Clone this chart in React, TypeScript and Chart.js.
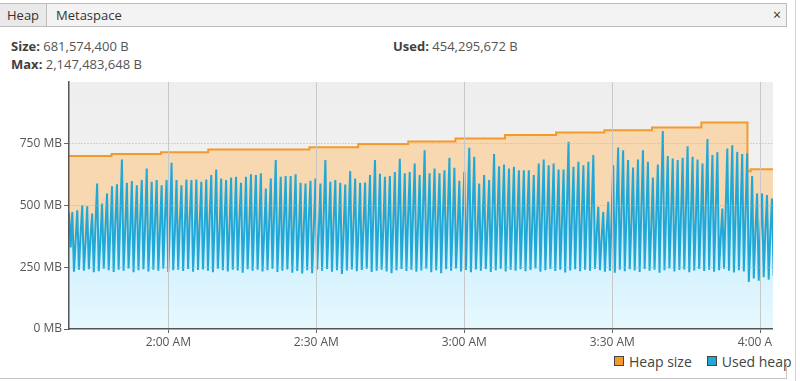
import React, { useEffect, useRef } from "react";
import { Chart, registerables } from "chart.js";

Chart.register(...registerables);

// ---- axis / time (minutes after midnight) ----
const xStartMin = 99.87; // ~1:39.9 AM
const xEndMin = 242.58; // ~4:02.6 AM
const xTickValues = [120, 150, 180, 210, 240];
const yTickValues = [0, 250, 500, 750, 1000];
const sampleStepMin = 0.3353;

// ---- Heap size (MB), step changes ----
const heapTimes = [99.87, 108.5, 118.5, 128.1, 148.6, 158.5, 168.65, 178.2, 188.25, 198.6, 208.4, 218.05, 228.05, 237.4, 238.06, 242.58];
const heapSizeMB = [700, 708, 716, 727, 736, 749, 759, 771, 785, 796, 805, 816, 836, 639, 647, 647];

// ---- Used heap (MB): low / mid / high of each GC cycle ----
const usedLowsMB = [
  470, 232, 240, 236, 242, 230, 234, 244, 238, 231, 240, 236, 245, 230, 238, 242, 233, 240, 236, 244,
  231, 238, 240, 235, 243, 232, 239, 241, 236, 230, 244, 238, 233, 240, 237, 228, 242,
  236, 240, 233, 238, 244, 231, 236, 241, 228, 235, 225, 238, 226, 240, 236, 243, 232, 238, 223, 237,
  241, 234, 239, 244, 231, 236, 240, 233, 226, 238, 243, 235, 240, 232, 237, 244, 230,
  238, 226, 242, 236, 245, 233, 239, 230, 241, 236, 243, 231, 238, 244, 233, 240, 236, 242, 234, 239,
  245, 232, 238, 243, 235, 240, 229, 237, 242, 234, 240, 236, 243, 238, 232,
  236, 228, 240, 234, 242, 237, 231, 243, 236, 240, 228, 238, 245, 233, 239, 241, 230, 237, 243, 235,
  240, 232, 238, 244, 236, 229, 238, 233, 190, 205, 195, 210, 200, 215,
];
const usedMidsMB = [
  330, 360, 380, 350, 372, 420, 365, 405, 398, 430, 455, 410, 392, 425, 440, 415, 388, 432, 402, 445,
  418, 395, 436, 408, 452, 385, 428, 412, 447, 420, 398, 438, 406, 425, 442, 400, 418,
  435, 410, 390, 428, 458, 402, 440, 415, 430, 396, 422, 448, 408, 392, 462, 418, 436, 404, 390, 445,
  425, 398, 412, 440, 468, 420, 405, 432, 418, 460, 424, 450, 470, 415, 478, 430, 445,
  438, 452, 465, 430, 410, 446, 488, 470, 402, 428, 415, 472, 440, 456, 432, 448, 425, 436, 442, 418,
  455, 468, 440, 452, 430, 426, 492, 438, 462, 445, 458, 480, 385, 368, 390,
  448, 485, 472, 455, 430, 460, 478, 450, 412, 442, 520, 465, 458, 450, 462, 488, 455, 446, 438, 505,
  470, 476, 372, 482, 495, 470, 466, 468, 360, 395, 402, 398, 385,
];
const usedHighsMB = [
  474, 481, 501, 497, 467, 589, 508, 549, 578, 586, 686, 592, 599, 582, 603, 650, 596, 603, 582, 603,
  673, 603, 582, 605, 603, 605, 596, 605, 623, 646, 609, 603, 613, 616, 592, 616, 626,
  623, 630, 569, 609, 684, 616, 619, 619, 626, 592, 589, 600, 609, 589, 684, 596, 603, 592, 585, 640,
  609, 592, 593, 623, 684, 628, 616, 619, 636, 689, 630, 636, 670, 623, 724, 630, 650,
  630, 643, 693, 653, 600, 636, 734, 697, 589, 623, 603, 708, 659, 666, 650, 657, 643, 643, 643, 623,
  670, 686, 663, 670, 646, 646, 758, 657, 677, 663, 677, 704, 495, 474, 515,
  663, 735, 724, 684, 654, 686, 724, 677, 613, 666, 802, 700, 690, 684, 693, 740, 697, 686, 670, 769,
  704, 716, 488, 731, 744, 717, 708, 711, 619, 549, 549, 542, 528,
];

function fmtTime(v: number): string {
  const h = Math.floor(v / 60);
  const m = Math.round(v - h * 60);
  const hh = h % 12 === 0 ? 12 : h % 12;
  return `${hh}:${m < 10 ? "0" + m : m} ${h < 12 ? "AM" : "PM"}`;
}

const plotBackground = {
  id: "plotBackground",
  beforeDraw(chart: any) {
    const { ctx, chartArea: a } = chart;
    if (!a) return;
    const g = ctx.createLinearGradient(0, a.top, 0, a.bottom);
    g.addColorStop(0, "#eeeeee");
    g.addColorStop(1, "#f6f6f6");
    ctx.save();
    ctx.fillStyle = g;
    ctx.fillRect(a.left, a.top, a.right - a.left, a.bottom - a.top);
    ctx.restore();
  },
};

export default function App() {
  const ref = useRef<HTMLCanvasElement>(null);

  useEffect(() => {
    const canvas = ref.current;
    if (!canvas) return;

    const usedData: { x: number; y: number }[] = [];
    let n = 0;
    for (let k = 0; k < usedLowsMB.length; k++) {
      usedData.push({ x: xStartMin + n++ * sampleStepMin, y: usedLowsMB[k] });
      if (k < usedHighsMB.length) {
        usedData.push({ x: xStartMin + n++ * sampleStepMin, y: usedMidsMB[k] });
        usedData.push({ x: xStartMin + n++ * sampleStepMin, y: usedHighsMB[k] });
      }
    }
    const heapData = heapTimes.map((t, i) => ({ x: t, y: heapSizeMB[i] }));

    Chart.defaults.font.family = "'Open Sans', sans-serif";
    Chart.defaults.font.size = 12;
    Chart.defaults.color = "#555";

    const chart = new Chart(canvas, {
      type: "line",
      data: {
        datasets: [
          {
            label: "Used heap",
            data: usedData,
            borderColor: "#22a8d6",
            borderWidth: 2,
            pointRadius: 0,
            tension: 0,
            fill: "origin",
            backgroundColor: (c: any) => {
              const { chart: ch } = c;
              const a = ch.chartArea;
              if (!a) return "#d6f3fd";
              const g = ch.ctx.createLinearGradient(0, a.top, 0, a.bottom);
              g.addColorStop(0, "#b9e3f2");
              g.addColorStop(0.55, "#bfe6f4");
              g.addColorStop(0.72, "#d4f2fd");
              g.addColorStop(1, "#e6f8fe");
              return g;
            },
          },
          {
            label: "Heap size",
            data: heapData,
            borderColor: "#f39a2c",
            borderWidth: 2,
            pointRadius: 0,
            stepped: true,
            fill: "origin",
            backgroundColor: "#f8d8b0",
          },
        ],
      },
      options: {
        animation: false,
        responsive: true,
        maintainAspectRatio: false,
        parsing: false,
        normalized: true,
        layout: { padding: { top: 10, left: 0, right: 0, bottom: 0 } },
        plugins: {
          legend: { display: false },
          tooltip: { enabled: false },
        },
        scales: {
          x: {
            type: "linear",
            min: xStartMin,
            max: xEndMin,
            afterBuildTicks: (axis: any) => {
              axis.ticks = xTickValues.map((v) => ({ value: v }));
            },
            afterFit: (axis: any) => {
              axis.height = 23;
              axis.paddingLeft = 0;
              axis.paddingRight = 0;
            },
            ticks: {
              callback: (v: any) => fmtTime(Number(v)),
              maxRotation: 0,
              autoSkip: false,
              padding: 2,
              color: "#555",
              font: { size: 12 },
            },
            grid: {
              color: "#c8c8c8",
              lineWidth: 1,
              tickColor: "#666",
              tickLength: 4,
              z: 1,
            },
            border: { color: "#555", width: 1.5, z: 2 },
          },
          y: {
            type: "linear",
            min: 0,
            max: 1000,
            afterBuildTicks: (axis: any) => {
              axis.ticks = yTickValues.map((v) => ({ value: v }));
            },
            afterFit: (axis: any) => {
              axis.width = 69;
              axis.paddingTop = 0;
              axis.paddingBottom = 0;
            },
            ticks: {
              callback: (v: any) => (Number(v) >= 1000 ? "" : `${v} MB`),
              padding: 2,
              color: "#555",
              font: { size: 12 },
            },
            grid: {
              color: (c: any) => {
                const v = c.tick ? c.tick.value : 0;
                return v === 0 || v === 1000 ? "rgba(0,0,0,0)" : "#b4b4b4";
              },
              tickColor: (c: any) => (c.tick && c.tick.value === 1000 ? "rgba(0,0,0,0)" : "#666"),
              tickLength: 5,
              lineWidth: 1,
              z: 1,
            },
            border: { color: "#555", width: 1.5, dash: [1, 2], z: 2 },
          },
        },
      },
      plugins: [plotBackground],
    } as any);

    return () => chart.destroy();
  }, []);

  const font = "'Open Sans', sans-serif";

  return (
    <div
      style={{
        position: "fixed",
        left: 0,
        top: 0,
        width: 800,
        height: 381,
        background: "#fff",
        overflow: "hidden",
        fontFamily: font,
      }}
    >
      {/* tab bar */}
      <div
        style={{
          position: "absolute",
          left: 0,
          top: 3,
          width: 786,
          height: 22,
          border: "1px solid #bdbdbd",
          borderLeft: "none",
          background: "#f3f3f3",
        }}
      >
        <div
          style={{
            position: "absolute",
            left: 0,
            top: 0,
            width: 47,
            height: 22,
            background: "#e9e9e9",
            borderRight: "1px solid #bdbdbd",
            fontSize: 13,
            lineHeight: "22px",
            color: "#333",
            paddingLeft: 7,
            boxSizing: "border-box",
          }}
        >
          Heap
        </div>
        <div
          style={{
            position: "absolute",
            left: 56,
            top: 0,
            height: 22,
            fontSize: 13,
            lineHeight: "22px",
            color: "#333",
          }}
        >
          Metaspace
        </div>
        <div
          style={{
            position: "absolute",
            left: 773,
            top: 0,
            height: 22,
            fontSize: 14,
            lineHeight: "22px",
            color: "#333",
          }}
        >
          ×
        </div>
      </div>

      {/* info rows */}
      <div style={{ position: "absolute", left: 11, top: 37, fontSize: 13, lineHeight: "18px", color: "#555" }}>
        <div>
          <b style={{ color: "#3f3f3f" }}>Size:</b> 681,574,400 B
        </div>
        <div>
          <b style={{ color: "#3f3f3f" }}>Max:</b> 2,147,483,648 B
        </div>
      </div>
      <div style={{ position: "absolute", left: 393, top: 37, fontSize: 13, lineHeight: "18px", color: "#555" }}>
        <b style={{ color: "#3f3f3f" }}>Used:</b> 454,295,672 B
      </div>

      {/* chart */}
      <div style={{ position: "absolute", left: 0, top: 72, width: 773, height: 280 }}>
        <canvas ref={ref} />
      </div>

      {/* legend */}
      <div
        style={{
          position: "absolute",
          left: 614,
          top: 352,
          height: 18,
          display: "flex",
          alignItems: "center",
          fontSize: 14,
          color: "#444",
          whiteSpace: "nowrap",
        }}
      >
        <span style={{ display: "inline-block", width: 8, height: 8, background: "#f39a2c", border: "1px solid #444", marginRight: 5 }} />
        <span style={{ marginRight: 15 }}>Heap size</span>
        <span style={{ display: "inline-block", width: 8, height: 8, background: "#22a8d6", border: "1px solid #444", marginRight: 5 }} />
        <span>Used heap</span>
      </div>

      {/* frame lines */}
      <div style={{ position: "absolute", left: 0, top: 378, width: 787, height: 1, background: "#c8c8c8" }} />
      <div style={{ position: "absolute", left: 786, top: 363, width: 1, height: 16, background: "#c8c8c8" }} />
      <div style={{ position: "absolute", left: 795, top: 0, width: 1, height: 381, background: "#d0d0d0" }} />
    </div>
  );
}
